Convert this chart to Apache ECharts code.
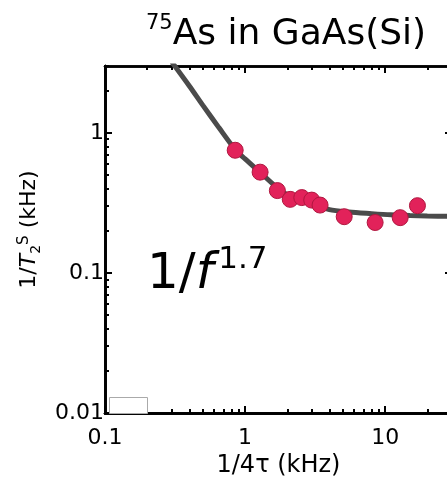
<!DOCTYPE html>
<html>
<head>
<meta charset="utf-8">
<script src="https://cdn.jsdelivr.net/npm/echarts@6/dist/echarts.min.js"></script>
<style>
html,body{margin:0;padding:0;background:#fff;}
#chart{width:447px;height:477px;}
</style>
</head>
<body>
<div id="chart"></div>
<script>
// ---- data ----
const pointX = [0.85, 1.28, 1.70, 2.10, 2.54, 2.99, 3.43, 5.10, 8.48, 12.8, 17.0];
const pointY = [0.751, 0.524, 0.387, 0.335, 0.345, 0.331, 0.305, 0.252, 0.229, 0.248, 0.302];
const curveX = [0.3, 0.4, 0.5, 0.65, 0.85, 1.0, 1.3, 1.7, 2.2, 3.0, 4.0, 5.5, 8, 11, 15, 20, 30];
const curveY = [3.2, 2.16, 1.57, 1.09, 0.76, 0.652, 0.515, 0.405, 0.341, 0.314, 0.283, 0.272, 0.265, 0.26, 0.257, 0.255, 0.253];
const xMajor = [0.1, 1, 10];
const xTickLabels = ['0.1', '1', '10'];
const xMinor = [0.2,0.3,0.4,0.5,0.6,0.7,0.8,0.9,2,3,4,5,6,7,8,9,20];
const yMajor = [0.01, 0.1, 1];
const yTickLabels = ['0.01', '0.1', '1'];
const yMinor = [0.02,0.03,0.04,0.05,0.06,0.07,0.08,0.09,0.2,0.3,0.4,0.5,0.6,0.7,0.8,0.9,2,3];

const FONT = 'DejaVu Sans';
const TICK_COLOR = '#000';
const X_MIN = 0.1, X_MAX = 30, Y_MIN = 0.01, Y_MAX = 3;
const chart = echarts.init(document.getElementById('chart'), null, {renderer: 'canvas'});

function lookup(ticks, labels) {
  return function (v) {
    const i = ticks.findIndex(t => Math.abs(Math.log10(t) - Math.log10(v)) < 1e-6);
    return i >= 0 ? labels[i] : '';
  };
}

function tickAx(pos, min, max, ticks, len) {
  return {
    type: 'log', logBase: 10, min: min, max: max, position: pos,
    axisLine: {show: true, onZero: false, lineStyle: {color: '#000', width: 2.5}},
    axisTick: {show: true, inside: true, length: len, customValues: ticks, lineStyle: {color: TICK_COLOR, width: 2}},
    axisLabel: {show: false},
    splitLine: {show: false}
  };
}

const xb = {
  type: 'log', logBase: 10, min: X_MIN, max: X_MAX, position: 'bottom',
  axisLine: {show: true, onZero: false, lineStyle: {color: '#000', width: 2.5}},
  axisTick: {show: false},
  axisLabel: {show: true, customValues: xMajor, formatter: lookup(xMajor, xTickLabels),
    fontFamily: FONT, fontSize: 22, color: '#000', margin: 14},
  splitLine: {show: false},
  name: '1/4\u03c4 (kHz)', nameLocation: 'middle', nameGap: 38,
  nameTextStyle: {fontFamily: FONT, fontSize: 24, color: '#000'}
};

const yl = {
  type: 'log', logBase: 10, min: Y_MIN, max: Y_MAX, position: 'left',
  axisLine: {show: true, onZero: false, lineStyle: {color: '#000', width: 2.5}},
  axisTick: {show: false},
  axisLabel: {show: true, customValues: yMajor, formatter: lookup(yMajor, yTickLabels),
    fontFamily: FONT, fontSize: 22, color: '#000', margin: 1},
  splitLine: {show: false},
  name: '{a|1/}{i|T}{sub|2}{sup|S}{a| (kHz)}', nameLocation: 'middle', nameGap: 60,
  nameTextStyle: {
    fontFamily: FONT, fontSize: 22, color: '#000', padding: [0, 0, 0, 20],
    rich: {
      a: {fontFamily: FONT, fontSize: 22, color: '#000', lineHeight: 30, verticalAlign: 'middle'},
      i: {fontFamily: FONT, fontSize: 22, fontStyle: 'italic', color: '#000', lineHeight: 30, verticalAlign: 'middle'},
      sub: {fontFamily: FONT, fontSize: 14, color: '#000', lineHeight: 30, verticalAlign: 'bottom', padding: [0, 0, 1, 0]},
      sup: {fontFamily: FONT, fontSize: 15, color: '#000', lineHeight: 30, verticalAlign: 'top', padding: [2, 0, 0, 0]}
    }
  }
};

const option = {
  animation: false,
  backgroundColor: '#fff',
  title: {
    text: '{s|75}{t|As in GaAs(Si)}',
    left: 141, top: 8,
    textStyle: {
      fontWeight: 'normal',
      rich: {
        s: {fontFamily: FONT, fontSize: 21, fontWeight: 'normal', color: '#000', verticalAlign: 'top', lineHeight: 40},
        t: {fontFamily: FONT, fontSize: 36, fontWeight: 'normal', color: '#000', verticalAlign: 'bottom', lineHeight: 40}
      }
    }
  },
  grid: {left: 105, top: 66, right: -5, bottom: 64, containLabel: false, outerBoundsMode: 'none'},
  xAxis: [
    xb,
    tickAx('bottom', X_MIN, X_MAX, xMajor, 7),
    tickAx('bottom', X_MIN, X_MAX, xMinor, 4),
    tickAx('top', X_MIN, X_MAX, xMajor, 7),
    tickAx('top', X_MIN, X_MAX, xMinor, 4)
  ],
  yAxis: [
    yl,
    tickAx('left', Y_MIN, Y_MAX, yMajor, 7),
    tickAx('left', Y_MIN, Y_MAX, yMinor, 4),
    tickAx('right', Y_MIN, Y_MAX, yMajor, 7),
    tickAx('right', Y_MIN, Y_MAX, yMinor, 4)
  ],
  graphic: [
    {type: 'rect', left: 109, top: 397, shape: {width: 38, height: 16},
      style: {fill: '#fff', stroke: '#aaa', lineWidth: 1}, z: 10},
    {type: 'text', left: 147, top: 244, z: 10,
      style: {
        text: '{a|1/}{i|f}{s|1.7}',
        rich: {
          a: {fontFamily: FONT, fontSize: 50, fill: '#000', lineHeight: 56, verticalAlign: 'bottom'},
          i: {fontFamily: FONT, fontSize: 50, fontStyle: 'italic', fill: '#000', lineHeight: 56, verticalAlign: 'bottom'},
          s: {fontFamily: FONT, fontSize: 31, fill: '#000', lineHeight: 56, verticalAlign: 'top', padding: [0, 0, 0, 5]}
        }
      }}
  ],
  series: [
    {
      type: 'line', xAxisIndex: 0, yAxisIndex: 0,
      data: curveX.map((x, i) => [x, curveY[i]]),
      smooth: 0.3, showSymbol: false, symbol: 'none', clip: true,
      lineStyle: {color: '#4b4b4b', width: 5}, z: 2
    },
    {
      type: 'scatter', xAxisIndex: 0, yAxisIndex: 0,
      data: pointX.map((x, i) => [x, pointY[i]]),
      symbol: 'circle', symbolSize: 16,
      itemStyle: {color: '#E2225A', borderColor: '#B0173F', borderWidth: 1, opacity: 1}, z: 3
    }
  ]
};
chart.setOption(option);
</script>
</body>
</html>
